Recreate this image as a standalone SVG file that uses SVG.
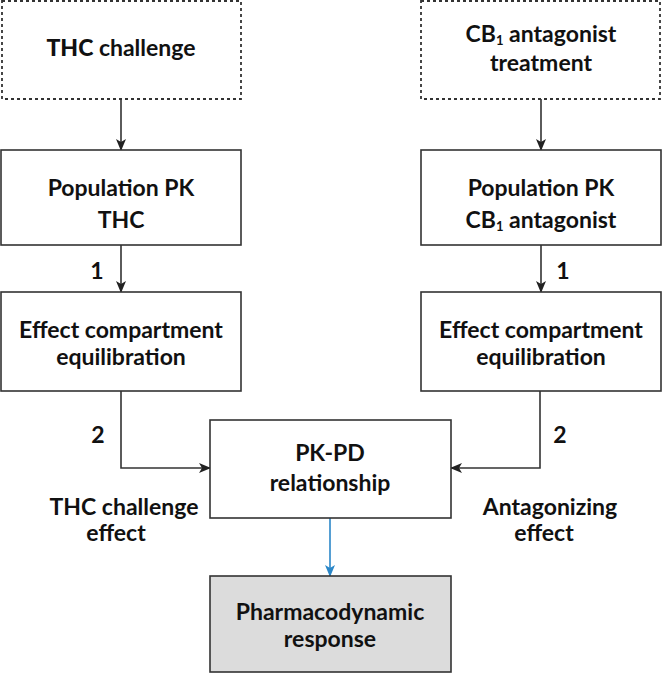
<svg xmlns="http://www.w3.org/2000/svg" width="662" height="674" viewBox="0 0 662 674">
<style>
.box{fill:#fff;stroke:#333;stroke-width:1.6}
.dash{fill:#fff;stroke:#333;stroke-width:1.8;stroke-dasharray:3 3}
.gray{fill:#dcdcdc;stroke:#333;stroke-width:1.6}
.t{font-family:Lato,"Open Sans",sans-serif;font-weight:bold;font-size:23px;fill:#111;text-anchor:middle}
.c{fill:none;stroke:#333;stroke-width:1.6}
.cb{fill:none;stroke:#2b87c8;stroke-width:1.6}
</style>
<defs>
<marker id="ah" markerWidth="12" markerHeight="10" refX="11" refY="5" orient="auto" markerUnits="userSpaceOnUse"><path d="M0,0 L12,5 L0,10 L3,5 Z" fill="#222"/></marker>
<marker id="ahb" markerWidth="12" markerHeight="10" refX="11" refY="5" orient="auto" markerUnits="userSpaceOnUse"><path d="M0,0 L12,5 L0,10 L3,5 Z" fill="#2b87c8"/></marker>
</defs>
<g id="connectors">
<line class="c" x1="121" y1="99" x2="121" y2="150" marker-end="url(#ah)"/>
<line class="c" x1="541" y1="99" x2="541" y2="150" marker-end="url(#ah)"/>
<line class="c" x1="121" y1="245" x2="121" y2="292" marker-end="url(#ah)"/>
<line class="c" x1="541" y1="245" x2="541" y2="292" marker-end="url(#ah)"/>
<path class="c" d="M121,391 V468 H210" marker-end="url(#ah)"/>
<path class="c" d="M540,391 V468 H451" marker-end="url(#ah)"/>
<line class="cb" x1="330" y1="518" x2="330" y2="576" marker-end="url(#ahb)"/>
<text class="t" x="97" y="279">1</text>
<text class="t" x="563" y="279">1</text>
<text class="t" x="98" y="443">2</text>
<text class="t" x="560" y="443">2</text>
</g>
<g id="thc-challenge">
<rect class="dash" x="2" y="1" width="239" height="98"/>
<text class="t" x="121" y="56"><tspan font-weight="900">THC</tspan> challenge</text>
</g>
<g id="cb1-treatment">
<rect class="dash" x="421" y="1" width="239" height="98"/>
<text class="t" x="541" y="42">CB<tspan font-size="13" dy="3">1</tspan><tspan dy="-3"> antagonist</tspan></text>
<text class="t" x="541" y="71">treatment</text>
</g>
<g id="pop-pk-thc">
<rect class="box" x="1" y="150" width="240" height="95"/>
<text class="t" x="121" y="196">Population PK</text>
<text class="t" x="121" y="228">THC</text>
</g>
<g id="pop-pk-cb1">
<rect class="box" x="421" y="150" width="240" height="95"/>
<text class="t" x="541" y="196">Population PK</text>
<text class="t" x="541" y="228">CB<tspan font-size="13" dy="3">1</tspan><tspan dy="-3"> antagonist</tspan></text>
</g>
<g id="effect-thc">
<rect class="box" x="1" y="292" width="240" height="99"/>
<text class="t" x="121" y="338">Effect compartment</text>
<text class="t" x="121" y="365">equilibration</text>
</g>
<g id="effect-cb1">
<rect class="box" x="421" y="292" width="240" height="99"/>
<text class="t" x="541" y="338">Effect compartment</text>
<text class="t" x="541" y="365">equilibration</text>
</g>
<g id="pkpd">
<rect class="box" x="210" y="420" width="241" height="98"/>
<text class="t" x="330" y="461">PK-PD</text>
<text class="t" x="330" y="491">relationship</text>
</g>
<g id="pd-response">
<rect class="gray" x="210" y="576" width="241" height="96"/>
<text class="t" x="330" y="620">Pharmacodynamic</text>
<text class="t" x="330" y="647">response</text>
</g>
<g id="labels">
<text class="t" x="124" y="515">THC challenge</text>
<text class="t" x="116" y="541">effect</text>
<text class="t" x="550" y="515">Antagonizing</text>
<text class="t" x="544" y="541">effect</text>
</g>
</svg>
